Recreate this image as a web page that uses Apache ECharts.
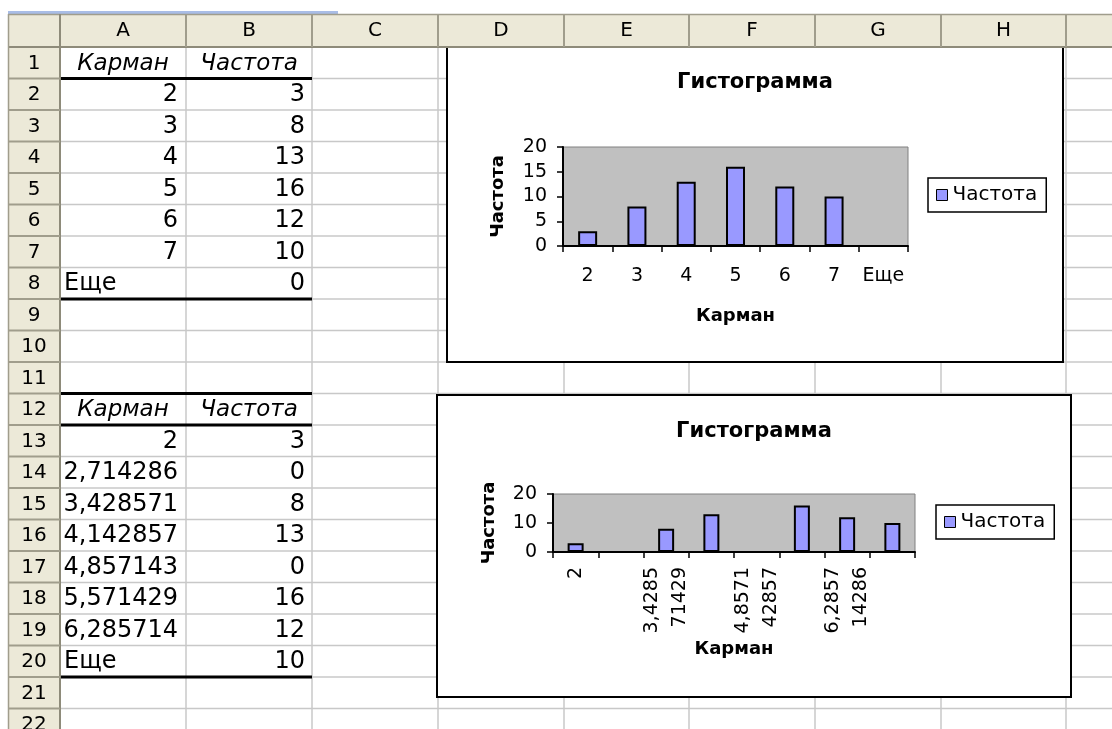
<!DOCTYPE html>
<html>
<head>
<meta charset="utf-8">
<script src="https://cdn.jsdelivr.net/npm/echarts@6/dist/echarts.min.js"></script>
<style>
  html, body { margin: 0; padding: 0; background: #fff; }
  #sheet { width: 1112px; height: 729px; }
</style>
</head>
<body>
<div id="sheet"></div>
<script>
// ---- data ----
const columnLetters = ['A', 'B', 'C', 'D', 'E', 'F', 'G', 'H'];
const headerBin = 'Карман';
const headerFreq = 'Частота';
const chartTitle = 'Гистограмма';

// histogram with integer pockets
const bins1 = [2, 3, 4, 5, 6, 7, 'Еще'];
const freq1 = [3, 8, 13, 16, 12, 10, 0];

// histogram with equal-width pockets
const bins2 = [2, 2.714285714, 3.428571429, 4.142857143, 4.857142857, 5.571428571, 6.285714286, 'Еще'];
const freq2 = [3, 0, 8, 13, 0, 16, 12, 10];

// ---- sheet geometry ----
const FONT = 'DejaVu Sans';
const colEdges = [60, 186, 312, 438, 564, 689, 815, 941, 1066, 1192];
const ROW_H = 31.5;
const rowTop = k => 47 + ROW_H * (k - 1);
const ROWS = 22;

// number formatting for the table cells (6 decimals, comma separator)
function cellText(v) {
  if (typeof v !== 'number') return v;
  return Number.isInteger(v) ? String(v) : v.toFixed(6).replace('.', ',');
}
// axis labels of the second chart: full value, wrapped every 6 characters
function axisText(v) {
  if (typeof v !== 'number') return v;
  const s = String(v).replace('.', ',');
  return s.length > 6 ? s.slice(0, 6) + '\n' + s.slice(6) : s;
}

const els = [];
const txt = (x, y, text, opt) => els.push({
  type: 'text', x, y, z: 1, silent: true,
  style: Object.assign({ text: String(text), fill: '#000', fontSize: 24, fontFamily: FONT,
    align: 'center', verticalAlign: 'middle' }, opt || {})
});
const line = (x1, y1, x2, y2, stroke, w, z) => els.push({
  type: 'line', z: z || 0, silent: true,
  shape: { x1, y1, x2, y2 }, style: { stroke, lineWidth: w }
});
const rect = (x, y, w, h, fill, stroke, lw, z) => els.push({
  type: 'rect', z: z || 0, silent: true,
  shape: { x, y, width: w, height: h },
  style: { fill, stroke: stroke || null, lineWidth: lw || 0 }
});

// cell grid
for (let i = 0; i < colEdges.length; i++) line(colEdges[i], 47, colEdges[i], 729, '#C8C8C8', 1.5);
for (let k = 2; k <= ROWS + 1; k++) line(60, rowTop(k), 1112, rowTop(k), '#C8C8C8', 1.5);

// table contents
function putTable(firstRow, bins, freq) {
  const cA = (colEdges[0] + colEdges[1]) / 2, cB = (colEdges[1] + colEdges[2]) / 2;
  const yc = k => rowTop(k) + ROW_H / 2 + 1;
  txt(cA, yc(firstRow), headerBin, { fontStyle: 'italic', fontSize: 23 });
  txt(cB, yc(firstRow), headerFreq, { fontStyle: 'italic', fontSize: 23 });
  bins.forEach((b, i) => {
    const r = firstRow + 1 + i;
    if (typeof b === 'number') txt(colEdges[1] - 8, yc(r), cellText(b), { align: 'right' });
    else txt(colEdges[0] + 4, yc(r), b, { align: 'left' });
    txt(colEdges[2] - 7, yc(r), freq[i], { align: 'right' });
  });
  line(colEdges[0], rowTop(firstRow + 1), colEdges[2], rowTop(firstRow + 1), '#000', 3, 1);
  line(colEdges[0], rowTop(firstRow + 1 + bins.length), colEdges[2], rowTop(firstRow + 1 + bins.length), '#000', 3, 1);
}
putTable(1, bins1, freq1);
putTable(12, bins2, freq2);
line(colEdges[0], rowTop(12), colEdges[2], rowTop(12), '#000', 3, 1);

// chart frames
rect(447, 46, 616, 316, '#fff', '#000', 2, 1);
rect(437, 395, 634, 302, '#fff', '#000', 2, 1);

// headers
els.push({ type: 'rect', z: 1, silent: true, shape: { x: 8, y: 11, width: 330, height: 3 }, style: { fill: '#A9BDE6' } });
rect(8, 14, 1112, 33, '#ECE9D8', null, 0, 1);
rect(8, 47, 52, 700, '#ECE9D8', null, 0, 1);
line(8, 14.5, 1112, 14.5, '#A09D8C', 1.5, 1);
line(8, 47, 1112, 47, '#8E8B7A', 2, 1);
line(8.5, 14, 8.5, 729, '#A09D8C', 1.5, 1);
line(60, 14, 60, 729, '#8E8B7A', 2, 1);
for (let i = 1; i < colEdges.length; i++) line(colEdges[i], 14, colEdges[i], 47, '#A09D8C', 2, 1);
for (let k = 2; k <= ROWS + 1; k++) line(8, rowTop(k), 60, rowTop(k), '#A09D8C', 2, 1);
columnLetters.forEach((c, i) => txt((colEdges[i] + colEdges[i + 1]) / 2, 31, c, { fontSize: 20 }));
for (let k = 1; k <= ROWS; k++) txt(34, rowTop(k) + ROW_H / 2 + 1, k, { fontSize: 20 });

// ---- charts ----
const axisBlack = { lineStyle: { color: '#000', width: 2 } };
const tickBlack = { show: true, length: 6, lineStyle: { color: '#000', width: 1.5 } };
const nameStyle = { fontWeight: 'bold', fontSize: 18, color: '#000', fontFamily: FONT };
const titleStyle = { fontWeight: 'bold', fontSize: 21, color: '#000', fontFamily: FONT };
const gridBase = { show: true, backgroundColor: '#C0C0C0', borderColor: '#808080', borderWidth: 1, z: 2, containLabel: false, outerBoundsMode: 'none' };
const legendBase = {
  orient: 'horizontal', backgroundColor: '#fff', borderColor: '#000', borderWidth: 1.5, borderRadius: 0,
  padding: [7, 9, 7, 8], itemWidth: 11, itemHeight: 11, icon: 'rect', selectedMode: false,
  itemStyle: { borderColor: '#000', borderWidth: 1 },
  textStyle: { fontSize: 20, color: '#000', fontFamily: FONT }, data: [headerFreq], z: 5
};

const option = {
  animation: false,
  textStyle: { fontFamily: FONT },
  graphic: { elements: els },
  title: [
    { text: chartTitle, left: 755, top: 72, textAlign: 'center', padding: 0, textStyle: titleStyle },
    { text: chartTitle, left: 754, top: 421, textAlign: 'center', padding: 0, textStyle: titleStyle }
  ],
  legend: [
    Object.assign({ left: 928, top: 178 }, legendBase),
    Object.assign({ left: 936, top: 505 }, legendBase)
  ],
  grid: [
    Object.assign({ left: 563, top: 147, width: 345, height: 99 }, gridBase),
    Object.assign({ left: 553, top: 494, width: 362, height: 58 }, gridBase)
  ],
  xAxis: [
    {
      gridIndex: 0, type: 'category', data: bins1.map(String), z: 3,
      axisLine: axisBlack, axisTick: Object.assign({ alignWithLabel: false, interval: 0 }, tickBlack),
      axisLabel: { color: '#000', fontSize: 19, margin: 21, interval: 0 },
      splitLine: { show: false },
      name: headerBin, nameLocation: 'middle', nameGap: 61, nameTextStyle: nameStyle
    },
    {
      gridIndex: 1, type: 'category', data: bins2.map(axisText), z: 3,
      axisLine: axisBlack, axisTick: Object.assign({ alignWithLabel: false, interval: 0 }, tickBlack),
      axisLabel: { color: '#000', fontSize: 19, margin: 15, interval: 1, rotate: 90, lineHeight: 28 },
      splitLine: { show: false },
      name: headerBin, nameLocation: 'middle', nameGap: 88, nameTextStyle: nameStyle
    }
  ],
  yAxis: [
    {
      gridIndex: 0, type: 'value', min: 0, max: 20, interval: 5, z: 3,
      axisLine: Object.assign({ show: true }, axisBlack), axisTick: tickBlack,
      axisLabel: { color: '#000', fontSize: 19, margin: 16 },
      splitLine: { show: false },
      name: headerFreq, nameLocation: 'middle', nameGap: 56, nameTextStyle: nameStyle
    },
    {
      gridIndex: 1, type: 'value', min: 0, max: 20, interval: 10, z: 3,
      axisLine: Object.assign({ show: true }, axisBlack), axisTick: tickBlack,
      axisLabel: { color: '#000', fontSize: 19, margin: 16 },
      splitLine: { show: false },
      name: headerFreq, nameLocation: 'middle', nameGap: 55, nameTextStyle: nameStyle
    }
  ],
  series: [
    {
      type: 'bar', name: headerFreq, xAxisIndex: 0, yAxisIndex: 0, data: freq1, barWidth: 19, z: 4,
      itemStyle: { color: '#9999FF', borderColor: '#000', borderWidth: 2 }
    },
    {
      type: 'bar', name: headerFreq, xAxisIndex: 1, yAxisIndex: 1, data: freq2, barWidth: 16, z: 4,
      itemStyle: { color: '#9999FF', borderColor: '#000', borderWidth: 2 }
    }
  ]
};

echarts.init(document.getElementById('sheet'), null, { renderer: 'canvas' }).setOption(option);
</script>
</body>
</html>
